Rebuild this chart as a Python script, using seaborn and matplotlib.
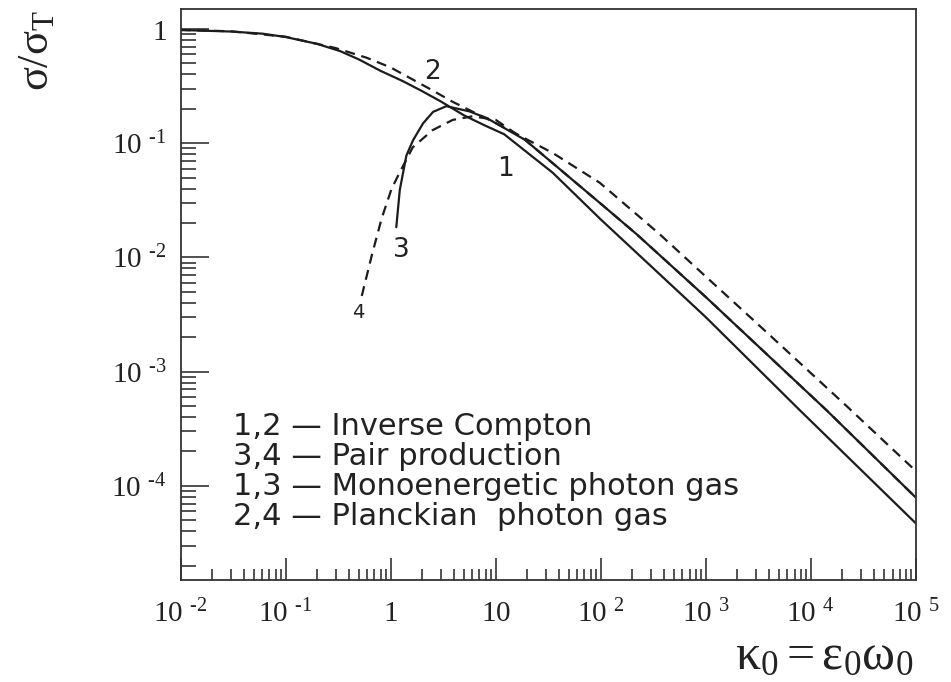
import math

import matplotlib
matplotlib.use("Agg")
import matplotlib.pyplot as plt
import matplotlib.ticker as mticker
import seaborn as sns

# curve 1: inverse Compton, monoenergetic photon gas (solid)
x_ic_mono = [0.01, 0.03, 0.06, 0.1, 0.2, 0.33, 0.5, 0.8, 1.3, 2.0, 3.0, 5.0,
             8.0, 12.0, 35.0, 100.0, 1000.0, 7850.0, 1e5]
y_ic_mono = [0.98, 0.95, 0.91, 0.85, 0.74, 0.64, 0.54, 0.43, 0.35, 0.285, 0.232,
             0.175, 0.142, 0.12, 0.055, 0.0215, 3.0e-3, 4.6e-4, 4.7e-5]

# curve 2: inverse Compton, Planckian photon gas (dashed)
x_ic_planck = [0.01, 0.03, 0.1, 0.3, 0.59, 1.0, 2.5, 3.9, 10.0, 35.0, 98.0,
               363.0, 1000.0, 3000.0, 21900.0, 1e5]
y_ic_planck = [0.98, 0.955, 0.855, 0.68, 0.56, 0.46, 0.29, 0.23, 0.15, 0.082,
               0.045, 0.016, 6.8e-3, 2.7e-3, 5.0e-4, 1.35e-4]

# curve 3: pair production, monoenergetic photon gas (solid)
x_pair_mono = [1.13, 1.22, 1.41, 1.63, 2.03, 2.53, 3.39, 5.6, 8.2, 19.0, 98.0,
               219.0, 1000.0, 14100.0, 1e5]
y_pair_mono = [0.0184, 0.039, 0.078, 0.106, 0.149, 0.188, 0.211, 0.19, 0.166,
               0.107, 0.030, 0.016, 4.5e-3, 4.6e-4, 7.9e-5]

# curve 4: pair production, Planckian photon gas (dashed)
x_pair_planck = [0.53, 0.66, 0.82, 1.02, 1.22, 1.62, 2.5, 3.9, 6.0, 10.0, 19.0,
                 98.0, 219.0, 1000.0, 14100.0, 1e5]
y_pair_planck = [0.0046, 0.0104, 0.022, 0.040, 0.0557, 0.092, 0.13, 0.16, 0.172,
                 0.16, 0.107, 0.030, 0.016, 4.5e-3, 4.6e-4, 7.9e-5]

legend_lines = [
    "1,2 \u2014 Inverse Compton",
    "3,4 \u2014 Pair production",
    "1,3 \u2014 Monoenergetic photon gas",
    "2,4 \u2014 Planckian  photon gas",
]

sns.set_theme(style="ticks")
plt.rcParams["font.family"] = ["DejaVu Sans"]
plt.rcParams["mathtext.fontset"] = "custom"
plt.rcParams["mathtext.rm"] = "Liberation Serif"
plt.rcParams["mathtext.it"] = "Liberation Serif:italic"
plt.rcParams["mathtext.bf"] = "Liberation Serif:bold"

fig = plt.figure(figsize=(9.51, 6.82), dpi=100)
ax = fig.add_axes([0.19, 0.1496, 0.773, 0.8374])

ink = "#1c1c1c"
dash = (0, (4.5, 3))
curves = [
    (x_ic_mono, y_ic_mono, "-"),
    (x_ic_planck, y_ic_planck, dash),
    (x_pair_mono, y_pair_mono, "-"),
    (x_pair_planck, y_pair_planck, dash),
]
for xs, ys, ls in curves:
    sns.lineplot(x=xs, y=ys, ax=ax, color=ink, linewidth=1.6, linestyle=ls,
                 estimator=None, sort=False)

ax.set_xscale("log")
ax.set_yscale("log")
ax.set_xlim(1e-2, 1e5)
ax.set_ylim(1.5e-5, 1.5)

for side in ["left", "bottom", "right", "top"]:
    ax.spines[side].set_color("#333333")
    ax.spines[side].set_linewidth(1.3)

ax.xaxis.set_major_locator(mticker.LogLocator(base=10, numticks=20))
ax.xaxis.set_minor_locator(mticker.LogLocator(base=10, subs=range(2, 10), numticks=20))
ax.yaxis.set_major_locator(mticker.LogLocator(base=10, numticks=20))
ax.yaxis.set_minor_locator(mticker.LogLocator(base=10, subs=range(2, 10), numticks=20))


def log_label(v, pos):
    e = int(round(math.log10(v)))
    if e == 0:
        return "$1$"
    if e == 1:
        return "$10$"
    return r"$10^{\ \,\mathrm{%s}}$" % str(e).replace("-", "\u2010")


ax.xaxis.set_major_formatter(mticker.FuncFormatter(log_label))
ax.yaxis.set_major_formatter(mticker.FuncFormatter(log_label))
ax.xaxis.set_minor_formatter(mticker.NullFormatter())
ax.yaxis.set_minor_formatter(mticker.NullFormatter())

ax.tick_params(axis="both", which="both", direction="in", color="#333333",
               width=1.2, labelsize=21, labelcolor="#222222")
ax.tick_params(axis="y", which="major", length=20, pad=10)
ax.tick_params(axis="y", which="minor", length=11)
ax.tick_params(axis="x", which="major", length=16, pad=14)
ax.tick_params(axis="x", which="minor", length=8)

ax.set_xlabel("")
ax.set_ylabel("")
fig.text(0.96, 0.04, "$\\mathrm{\u03ba_0{=}\u03b5_0\u03c9_0}$", ha="right",
         va="center", fontsize=36, color="#222222")
fig.text(0.037, 0.985, "$\\mathrm{\u03c3/\u03c3_T}$", ha="center", va="top",
         rotation=90, fontsize=32, color="#222222")

# curve numbers
for txt, xv, yv, fs in [("2", 2.5, 0.42, 19), ("1", 12.5, 0.06, 19),
                        ("3", 1.27, 0.0115, 19), ("4", 0.495, 0.0033, 14)]:
    ax.text(xv, yv, txt, fontsize=fs, ha="center", va="center", color="#222222")

for i, line in enumerate(legend_lines):
    ax.text(0.071, 0.268 - i * 0.052, line, transform=ax.transAxes,
            fontsize=22, ha="left", va="center", color="#222222")

fig.savefig("out.png", dpi=100, facecolor="white")
